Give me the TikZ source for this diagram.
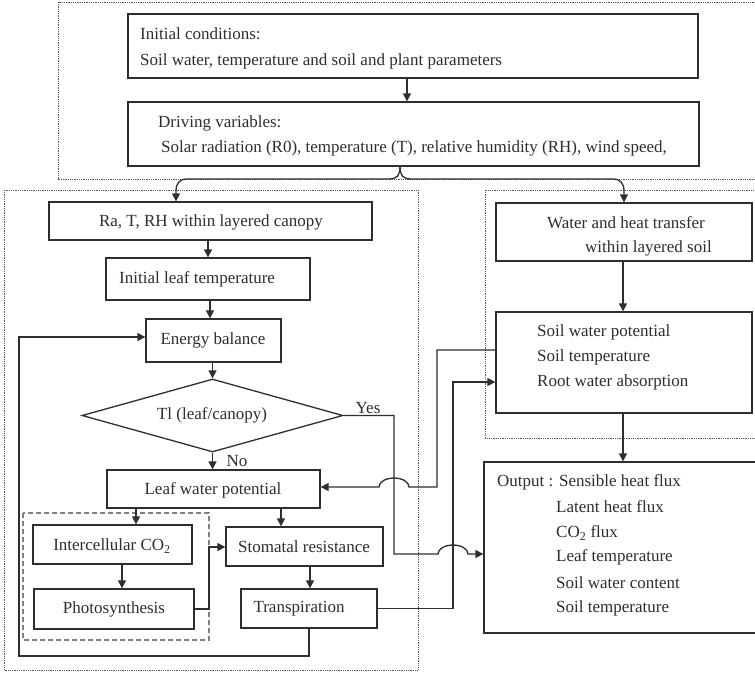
\documentclass[tikz,border=0pt]{standalone}
\usepackage{fontspec}
\setmainfont{Liberation Serif}
\usetikzlibrary{arrows.meta,shapes.geometric}
\definecolor{ink}{HTML}{2E2E2E}
\tikzset{
  box/.style={draw=ink, line width=1.3pt, inner sep=0pt, fill=none},
  txt/.style={inner sep=0pt, text=ink, font=\fontsize{17}{20}\selectfont},
  wtxt/.style={txt, anchor=west},
  arr/.style={draw=ink, line width=1.3pt, -{Triangle[length=8pt,width=8pt]}},
  ln/.style={draw=ink, line width=1.3pt},
  dotbox/.style={draw=ink!80, line width=0.9pt, dash pattern=on 0.9pt off 0.9pt},
  dashbox/.style={draw=gray, line width=1.2pt, dash pattern=on 5pt off 3pt},
}
\begin{document}
\begin{tikzpicture}[x=1pt,y=-1pt]
\useasboundingbox (0,0) rectangle (755,675);
\clip (0,0) rectangle (755,675);
\fill[white] (0,0) rectangle (755,675);
% group frames
\draw[dotbox] (58,2) rectangle (770,179);
\draw[dotbox] (4,190) rectangle (418,670);
\draw[dotbox] (485,190) rectangle (770,438);
\draw[dashbox] (23,513) rectangle (209,640);
% top boxes
\node[box, minimum width=570, minimum height=64] (init) at (413,46) {};
\node[wtxt] (tinit1) at (140,34) {Initial conditions:};
\node[wtxt] (tinit2) at (140,61) {Soil water, temperature and soil and plant parameters};
\node[box, minimum width=571, minimum height=64] (drive) at (413.5,134) {};
\node[wtxt] (tdrive1) at (158,123) {Driving variables:};
\node[wtxt] (tdrive2) at (161,148) {Solar radiation (R0), temperature (T), relative humidity (RH), wind speed,};
% canopy side
\node[box, minimum width=323, minimum height=38] (ra) at (210.5,221) {};
\node[txt] (tra) at (211,222) {Ra, T, RH within layered canopy};
\node[box, minimum width=204, minimum height=42] (leaft) at (208,279) {};
\node[wtxt] (tleaft) at (119,279) {Initial leaf temperature};
\node[box, minimum width=135, minimum height=43] (energy) at (213.5,340.5) {};
\node[txt] (tenergy) at (213,340) {Energy balance};
\node[box, shape=diamond, minimum width=261, minimum height=73] (dia) at (212.5,415.5) {};
\node[txt] (tdia) at (212,415) {Tl (leaf/canopy)};
\node[txt] (yes) at (368,408) {Yes};
\node[txt] (no) at (237,461) {No};
\node[box, minimum width=213, minimum height=38] (leafw) at (213.5,489) {};
\node[txt] (tleafw) at (213,490) {Leaf water potential};
\node[box, minimum width=159, minimum height=39] (inter) at (112.5,544.5) {};
\node[txt] (tinter) at (112,546) {Intercellular CO\textsubscript{2}};
\node[box, minimum width=160, minimum height=40] (photo) at (114,609) {};
\node[txt] (tphoto) at (114,609) {Photosynthesis};
\node[box, minimum width=157, minimum height=39] (stom) at (304.5,546.5) {};
\node[txt] (tstom) at (304,547) {Stomatal resistance};
\node[box, minimum width=136, minimum height=39] (transp) at (309,608.5) {};
\node[txt] (ttransp) at (299,609) {Transpiration};
% soil side
\node[box, minimum width=256, minimum height=58] (water) at (624,232) {};
\node[wtxt] (twater1) at (547,223) {Water and heat transfer};
\node[wtxt] (twater2) at (585,248) {within layered soil};
\node[box, minimum width=256, minimum height=101] (soil) at (624,362.5) {};
\node[wtxt] (tsoil1) at (537,332) {Soil water potential};
\node[wtxt] (tsoil2) at (537,357) {Soil temperature};
\node[wtxt] (tsoil3) at (537,382) {Root water absorption};
\node[box, minimum width=276, minimum height=171] (output) at (622,547.5) {};
\node[wtxt] (tout1) at (497,482) {Output : Sensible heat flux};
\node[wtxt] (tout2) at (556,507) {Latent heat flux};
\node[wtxt] (tout3) at (556,533) {CO\textsubscript{2} flux};
\node[wtxt] (tout4) at (556,557) {Leaf temperature};
\node[wtxt] (tout5) at (556,583) {Soil water content};
\node[wtxt] (tout6) at (556,608) {Soil temperature};
% x positions of connectors
\coordinate (x407) at (407,0);
\coordinate (x400) at (400,0);
\coordinate (x176) at (176,0);
\coordinate (x624) at (624,0);
\coordinate (x208) at (208,0);
\coordinate (x210) at (210,0);
\coordinate (x136) at (136,0);
\coordinate (x281) at (281,0);
\coordinate (x122) at (122,0);
\coordinate (x310) at (310,0);
\coordinate (x309) at (309,0);
\coordinate (x623) at (623,0);
\coordinate (y337) at (0,337);
\coordinate (y554) at (0,554);
\coordinate (y609) at (0,609);
\coordinate (y547) at (0,547);
\coordinate (y608) at (0,608.5);
\coordinate (y382) at (0,382);
\coordinate (y350) at (0,350);
\coordinate (y487) at (0,487);
\coordinate (cusp) at (drive.south -| x400);
% connectors
\draw[arr] (init.south -| x407) -- (drive.north -| x407);
\draw[arr] (cusp) .. controls (400,176) and (397,179) .. (388,179) -- (188,179)
  .. controls (179,179) and (176,183) .. (176,192) -- (ra.north -| x176);
\draw[arr] (cusp) .. controls (400,176) and (403,179) .. (412,179) -- (612,179)
  .. controls (621,179) and (624,183) .. (624,192) -- (water.north -| x624);
\draw[arr] (ra.south -| x208) -- (leaft.north -| x208);
\draw[arr] (leaft.south -| x210) -- (energy.north -| x210);
\draw[arr] (energy.south -| dia.north) -- (dia.north);
\draw[arr] (dia.south) -- (leafw.north -| dia.south);
\draw[arr] (dia.east) -- (394,415.5) -- (394,554) -- (438,554)
  arc[start angle=180, end angle=360, x radius=15, y radius=9] -- (output.west |- y554);
\draw[arr] (leafw.south -| x136) -- (inter.north -| x136);
\draw[arr] (leafw.south -| x281) -- (stom.north -| x281);
\draw[arr] (inter.south -| x122) -- (photo.north -| x122);
\draw[arr] (photo.east |- y609) -- (209,609) -- (209,547) -- (stom.west |- y547);
\draw[arr] (stom.south -| x310) -- (transp.north -| x310);
\draw[arr] (transp.south -| x309) -- (309,656) -- (19,656) -- (19,337) -- (energy.west |- y337);
\draw[arr] (transp.east |- y608) -- (453,608.5) -- (453,382) -- (soil.west |- y382);
\draw[arr] (soil.west |- y350) -- (437,350) -- (437,487) -- (409,487)
  arc[start angle=0, end angle=-180, x radius=15, y radius=9] -- (leafw.east |- y487);
\draw[arr] (water.south -| x623) -- (soil.north -| x623);
\draw[arr] (soil.south -| x623) -- (output.north -| x623);
\end{tikzpicture}
\end{document}
